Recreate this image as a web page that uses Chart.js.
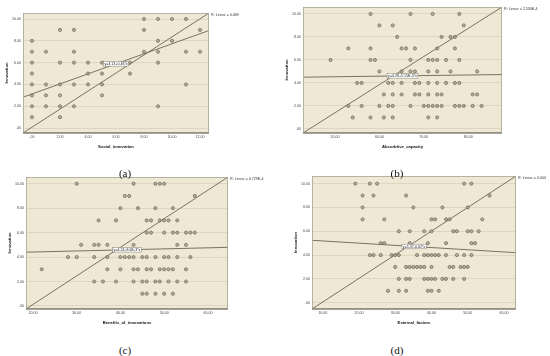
<!DOCTYPE html>
<html>
<head>
<meta charset="utf-8">
<script src="https://cdn.jsdelivr.net/npm/chart.js@4.4.1/dist/chart.umd.min.js"></script>
<style>
  html, body { margin: 0; padding: 0; background: #fff; }
  #page { position: relative; width: 550px; height: 356px; overflow: hidden; }
  #page canvas { position: absolute; }
  .caption { position: absolute; width: 40px; text-align: center; font: 11px "Liberation Serif", serif; color: #111; line-height: 14px; }
</style>
</head>
<body>
<div id="page">
  <canvas id="chart0"></canvas>
  <canvas id="chart1"></canvas>
  <canvas id="chart2"></canvas>
  <canvas id="chart3"></canvas>
  <div class="caption" style="left:105px;top:166px">(a)</div>
  <div class="caption" style="left:377px;top:166px">(b)</div>
  <div class="caption" style="left:105px;top:343px">(c)</div>
  <div class="caption" style="left:377px;top:343px">(d)</div>
</div>
<script>
// Innovation score (y) per row, and the x values seen on each row
const innovationLevels = [10, 9, 8, 7, 6, 5, 4, 3, 2, 1];

const socialRows = [
  [8, 9, 10, 11], [2, 3, 8, 12], [0, 9, 10], [0, 1, 3, 8, 9, 11, 12], [0, 2, 3, 4, 5, 7, 9],
  [0, 4, 5, 7], [0, 1, 2, 3, 4, 5, 11], [0, 1, 2, 5], [0, 1, 2, 3, 9], [0, 2]
];
const absorptiveRows = [
  [58, 67, 72, 78], [60, 63, 79], [64, 74, 76, 77], [53, 58, 65, 66, 68, 73, 77],
  [49, 58, 59, 67, 71, 72, 73, 75, 78], [60, 65, 67, 68, 71, 73, 76, 82],
  [55, 56, 62, 63, 65, 68, 69, 71, 73, 75, 77, 78], [61, 63, 65, 68, 69, 71, 73, 74, 81, 82],
  [53, 56, 60, 62, 63, 67, 70, 71, 72, 73, 74, 77, 78, 79, 81, 83], [54, 58, 61, 63, 71, 73]
];
const benefitsRows = [
  [30, 43, 48, 49, 50], [41, 42, 57], [40, 44, 48, 52], [35, 39, 46, 47, 49, 50, 51, 53],
  [46, 47, 50, 52, 53, 55, 56, 57], [31, 34, 35, 37, 43, 53, 55],
  [28, 30, 34, 37, 40, 41, 42, 43, 45, 46, 48, 50, 51, 53, 56],
  [22, 37, 40, 43, 44, 46, 47, 49, 50, 51, 52, 55],
  [34, 36, 39, 43, 45, 46, 48, 49, 51, 53, 55], [45, 46, 48, 50, 52]
];
const externalRows = [
  [19, 23, 25, 49, 51], [21, 24, 33, 56], [21, 35, 43, 50], [21, 27, 40, 41, 44, 45, 54],
  [31, 34, 38, 40, 46, 47, 50, 51, 53], [26, 27, 34, 39, 44, 51, 52],
  [23, 24, 26, 29, 30, 31, 36, 38, 39, 40, 41, 42, 44, 47, 49, 51],
  [30, 33, 34, 35, 36, 37, 38, 40, 45, 46, 48, 49, 50],
  [31, 33, 34, 38, 39, 40, 41, 43, 44, 46, 49], [28, 31, 33, 39, 40, 42]
];

const xTitles = ["Social_innovation", "Absorbtive_capacity", "Benefits_of_innovations", "External_factors"];
const yTicks = [0, 2, 4, 6, 8, 10];
const xTickSets = [[0, 2, 4, 6, 8, 10, 12], [50, 60, 70, 80], [20, 30, 40, 50, 60], [10, 20, 30, 40, 50, 60]];
const xRanges = [[-0.64, 12.64], [42.8, 87.6], [18.4, 64.6], [7.05, 63.3]];
const yRanges = [[-0.45, 10.55], [-0.35, 10.6], [-0.25, 10.55], [-0.53, 10.64]];

// fit lines
const intercepts = [3.13, 4.28, 4.24, 5.37];
const slopes = [0.46, 0.00515, 0.0086, -0.0185];
const eqLabels = ["y=3.13+0.46*x", "y=4.28+5.15E-3*x", "y=4.24+8.6E-3*x", "y=5.37-0.02*x"];
const r2Labels = ["0.469", "2.530E-4", "6.729E-4", "0.004"];

const allRows = [socialRows, absorptiveRows, benefitsRows, externalRows];

// plot box of each panel on the page: left, top, right, bottom
const boxes = [[23, 13, 209, 133], [303, 7, 502, 133], [26, 177, 228, 309], [312, 176, 516, 309]];
const Y_AXIS_W = 22, X_AXIS_H = 20, PAD_TOP = 6, PAD_RIGHT = 40;

const FONT = "'Liberation Sans', Arial, sans-serif";
const LINE_COLOR = "#6c6553";

function fmtTick(v) {
  return v === 0 ? ".00" : Number(v).toFixed(2);
}

const plotFrame = {
  id: "plotFrame",
  beforeDraw(chart) {
    const a = chart.chartArea, ctx = chart.ctx;
    ctx.save();
    ctx.fillStyle = "#efe8d4";
    ctx.fillRect(a.left, a.top, a.right - a.left, a.bottom - a.top);
    ctx.restore();
  },
  afterDraw(chart, args, opts) {
    const a = chart.chartArea, ctx = chart.ctx;
    const xs = chart.scales.x, ys = chart.scales.y;
    ctx.save();
    // frame
    ctx.strokeStyle = "#aaa493";
    ctx.lineWidth = 0.8;
    ctx.strokeRect(a.left + 0.5, a.top + 0.5, a.right - a.left - 1, a.bottom - a.top - 1);
    ctx.strokeStyle = "#8a8577";
    ctx.lineWidth = 1.3;
    ctx.beginPath();
    ctx.moveTo(a.left, a.bottom);
    ctx.lineTo(a.right, a.bottom);
    ctx.stroke();

    // equation label at the middle of the fit line
    const mx = (xs.min + xs.max) / 2;
    const px = xs.getPixelForValue(mx);
    const py = ys.getPixelForValue(opts.b0 + opts.b1 * mx);
    ctx.font = "3.6px " + FONT;
    const w = ctx.measureText(opts.eq).width + 2;
    ctx.fillStyle = "#ffffff";
    ctx.fillRect(px - w / 2, py - 2.3, w, 4.6);
    ctx.strokeStyle = "#7d786b";
    ctx.lineWidth = 0.5;
    ctx.strokeRect(px - w / 2, py - 2.3, w, 4.6);
    ctx.fillStyle = "#222";
    ctx.textAlign = "center";
    ctx.textBaseline = "middle";
    ctx.fillText(opts.eq, px, py + 0.2);

    // R squared note at the top right corner
    ctx.textAlign = "left";
    ctx.fillStyle = "#333";
    ctx.fillText("R\u00b2 Linear = " + opts.r2, a.right + 2, a.top + 1.5);
    ctx.restore();
  }
};

allRows.forEach((rows, i) => {
  const [L, T, R, B] = boxes[i];
  const canvas = document.getElementById("chart" + i);
  canvas.width = R - L + Y_AXIS_W + PAD_RIGHT;
  canvas.height = B - T + PAD_TOP + X_AXIS_H;
  canvas.style.left = (L - Y_AXIS_W) + "px";
  canvas.style.top = (T - PAD_TOP) + "px";

  const points = [];
  rows.forEach((xsRow, r) => xsRow.forEach((x) => points.push({ x: x, y: innovationLevels[r] })));

  const [x0, x1] = xRanges[i];
  const [y0, y1] = yRanges[i];
  const fit = [x0, x1].map((x) => ({ x: x, y: intercepts[i] + slopes[i] * x }));
  const diag = [{ x: x0, y: y0 }, { x: x1, y: y1 }];

  new Chart(canvas, {
    type: "scatter",
    data: {
      datasets: [
        { data: points, pointRadius: 1.6, pointBackgroundColor: "rgba(168,162,146,0.85)", pointBorderColor: "#5e594d", pointBorderWidth: 0.6 },
        { data: fit, showLine: true, pointRadius: 0, borderColor: LINE_COLOR, borderWidth: 0.9 },
        { data: diag, showLine: true, pointRadius: 0, borderColor: LINE_COLOR, borderWidth: 0.9 }
      ]
    },
    options: {
      responsive: false,
      animation: false,
      events: [],
      layout: { padding: { left: 0, top: PAD_TOP, right: PAD_RIGHT, bottom: 0 } },
      plugins: {
        legend: { display: false },
        tooltip: { enabled: false },
        plotFrame: { eq: eqLabels[i], r2: r2Labels[i], b0: intercepts[i], b1: slopes[i] }
      },
      scales: {
        x: {
          type: "linear",
          min: x0,
          max: x1,
          afterBuildTicks: (s) => { s.ticks = xTickSets[i].map((v) => ({ value: v })); },
          afterFit: (s) => { s.height = X_AXIS_H; },
          grid: { display: false, drawTicks: false },
          border: { display: false },
          ticks: { callback: fmtTick, autoSkip: false, maxRotation: 0, padding: 2, color: "#444", font: { size: 3.6, family: FONT } },
          title: { display: true, text: xTitles[i], color: "#111", padding: { top: 0, bottom: 3.5 }, font: { size: 4.2, weight: "bold", family: FONT } }
        },
        y: {
          type: "linear",
          min: y0,
          max: y1,
          afterBuildTicks: (s) => { s.ticks = yTicks.map((v) => ({ value: v })); },
          afterFit: (s) => { s.width = Y_AXIS_W; },
          grid: { color: "#d6cfb8", lineWidth: 0.7, drawTicks: false },
          border: { display: false },
          ticks: { callback: fmtTick, autoSkip: false, padding: 2, color: "#444", font: { size: 3.6, family: FONT } },
          title: { display: true, text: "Innovation", color: "#111", padding: { top: 3, bottom: 0 }, font: { size: 4.2, weight: "bold", family: FONT } }
        }
      }
    },
    plugins: [plotFrame]
  });
});
</script>
</body>
</html>
